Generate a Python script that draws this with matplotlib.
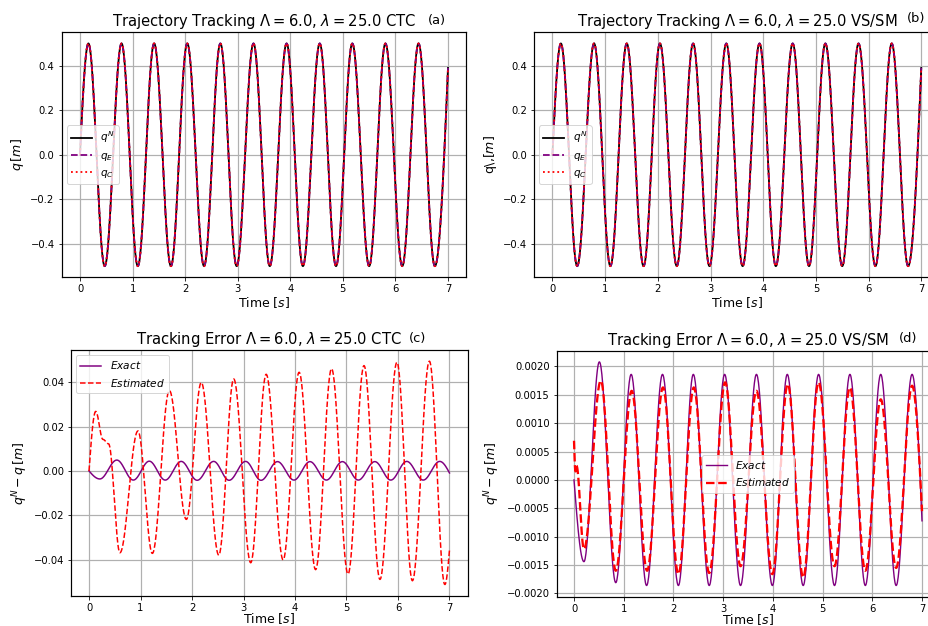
import numpy as np
import matplotlib
matplotlib.use("Agg")
import matplotlib.pyplot as plt
from matplotlib.ticker import MultipleLocator

# ---- values (extrema of each trace, t in s) ----
# reference trajectory q^N (q_E and q_C lie on top of it)
q_t = [0.0, 0.16, 0.47, 0.79, 1.10, 1.41, 1.73, 2.04, 2.36, 2.67, 2.98, 3.30,
       3.61, 3.93, 4.24, 4.56, 4.87, 5.18, 5.50, 5.81, 6.13, 6.44, 6.75, 7.0]
q_v = [0.0, 0.50, -0.50, 0.50, -0.50, 0.50, -0.50, 0.50, -0.50, 0.50, -0.50, 0.50,
       -0.50, 0.50, -0.50, 0.50, -0.50, 0.50, -0.50, 0.50, -0.50, 0.50, -0.50, 0.39]

# (c) CTC tracking error
c_exact_t = [0.0, 0.21, 0.54, 0.86, 1.17, 1.48, 1.79, 2.10, 2.42, 2.72, 3.04, 3.34,
             3.66, 3.98, 4.29, 4.61, 4.92, 5.23, 5.55, 5.86, 6.17, 6.49, 6.81, 7.0]
c_exact_v = [0.0, -0.0036, 0.0049, -0.0041, 0.0044, -0.0041, 0.0043, -0.0042, 0.0043,
             -0.0042, 0.0043, -0.0042, 0.0042, -0.0041, 0.0042, -0.0041, 0.0042,
             -0.0041, 0.0042, -0.0041, 0.0043, -0.0041, 0.0043, -0.0009]
c_est_t = [0.0, 0.13, 0.27, 0.38, 0.60, 0.95, 1.23, 1.56, 1.89, 2.18, 2.52, 2.81,
           3.14, 3.44, 3.77, 4.08, 4.40, 4.71, 5.03, 5.34, 5.65, 5.98, 6.28, 6.61,
           6.91, 7.0]
c_est_v = [0.0, 0.0268, 0.0142, 0.0122, -0.0368, 0.0180, -0.0371, 0.0362, -0.0218,
           0.0398, -0.0379, 0.0414, -0.0413, 0.0435, -0.0400, 0.0444, -0.0444,
           0.0460, -0.0464, 0.0474, -0.0488, 0.0489, -0.0494, 0.0494, -0.0511,
           -0.0356]

# (d) VS/SM tracking error
d_exact_t = [0.0, 0.20, 0.51, 0.84, 1.15, 1.46, 1.78, 2.10, 2.40, 2.72, 3.03, 3.35,
             3.67, 3.99, 4.29, 4.61, 4.92, 5.24, 5.55, 5.86, 6.17, 6.48, 6.80, 7.0]
d_exact_v = [0.0, -0.00144, 0.00208, -0.00181, 0.00186, -0.00186, 0.00186, -0.00186,
             0.00186, -0.00186, 0.00186, -0.00186, 0.00186, -0.00186, 0.00186,
             -0.00186, 0.00186, -0.00186, 0.00186, -0.00186, 0.00186, -0.00186,
             0.00186, -0.00072]
d_est_t = [0.0, 0.03, 0.05, 0.20, 0.54, 0.84, 1.16, 1.47, 1.79, 2.10, 2.41, 2.72,
           3.04, 3.35, 3.67, 3.99, 4.30, 4.61, 4.92, 5.24, 5.55, 5.86, 6.17, 6.48,
           6.80, 7.0]
d_est_v = [0.00069, 0.00015, 0.00025, -0.00122, 0.00175, -0.00160, 0.00157, -0.00160,
           0.00163, -0.00166, 0.00163, -0.00164, 0.00172, -0.00152, 0.00157,
           -0.00166, 0.00169, -0.00172, 0.00172, -0.00152, 0.00163, -0.00160,
           0.00142, -0.00155, 0.00166, -0.00055]


def trace(tk, vk, n=40):
    """Join the read extrema with smooth (cosine) pieces."""
    ts, vs = [], []
    last = len(tk) - 2
    for i in range(len(tk) - 1):
        s = np.linspace(0, 1, n)
        if i == 0:
            w = np.sin(np.pi / 2 * s)
        elif i == last:
            w = 1 - np.cos(np.pi / 2 * s)
        else:
            w = (1 - np.cos(np.pi * s)) / 2
        ts.append(tk[i] + (tk[i + 1] - tk[i]) * s)
        vs.append(vk[i] + (vk[i + 1] - vk[i]) * w)
    return np.concatenate(ts), np.concatenate(vs)


W, H, DPI = 928, 626, 72
fig = plt.figure(figsize=(W / DPI + 1e-4, H / DPI + 1e-4), dpi=DPI)


def box(l, t, r, b):
    return [l / W, 1 - b / H, (r - l) / W, (b - t) / H]


ax_a = fig.add_axes(box(61.6, 32.3, 466.4, 277.3))
ax_b = fig.add_axes(box(534, 32.3, 939.7, 277.3))
ax_c = fig.add_axes(box(71, 350, 467.5, 595.7))
ax_d = fig.add_axes(box(556.6, 350.7, 939.4, 596.7))

TITLE, LABEL, PANEL, LEG = 14.8, 12.5, 13, 10.5

tq, vq = trace(q_t, q_v)
for ax, name, ylab in [(ax_a, "CTC", r"$q\,[m]$"),
                       (ax_b, "VS/SM", r"q\,[$m$]")]:
    ax.plot(tq, vq, color="black", lw=1.8, label=r"$q^N$")
    ax.plot(tq, vq, color="purple", lw=1.8, ls="--", label=r"$q_E$")
    ax.plot(tq, vq, color="red", lw=1.8, ls=":", label=r"$q_C$")
    ax.set_title(r"Trajectory Tracking $\Lambda = 6.0$, $\lambda = 25.0$ " + name,
                 fontsize=TITLE)
    ax.set_ylabel(ylab, fontsize=LABEL)
    ax.set_xlabel(r"Time [$s$]", fontsize=LABEL, labelpad=1)
    ax.legend(loc="center left", fontsize=LEG)

ax_a.text(0.927, 1.05, "(a)", transform=ax_a.transAxes, ha="center", va="center",
          fontsize=PANEL)
ax_b.text(0.9416, 1.055, "(b)", transform=ax_b.transAxes, ha="center", va="center",
          fontsize=PANEL)

t1, v1 = trace(c_exact_t, c_exact_v)
t2, v2 = trace(c_est_t, c_est_v)
ax_c.plot(t1, v1, color="purple", lw=1.5, label=r"$Exact$")
ax_c.plot(t2, v2, color="red", lw=1.5, ls="--", label=r"$Estimated$")
ax_c.set_title(r"Tracking Error $\Lambda = 6.0$, $\lambda = 25.0$ CTC", fontsize=TITLE)
ax_c.text(0.874, 1.045, "(c)", transform=ax_c.transAxes, ha="center", va="center",
          fontsize=PANEL)
ax_c.legend(loc="upper left", fontsize=LEG)

t3, v3 = trace(d_exact_t, d_exact_v)
t4, v4 = trace(d_est_t, d_est_v)
ax_d.plot(t3, v3, color="purple", lw=1.4, label=r"$Exact$")
ax_d.plot(t4, v4, color="red", lw=2.3, ls="--", label=r"$Estimated$")
ax_d.set_title(r"Tracking Error $\Lambda = 6.0$, $\lambda = 25.0$ VS/SM", fontsize=TITLE)
ax_d.text(0.918, 1.05, "(d)", transform=ax_d.transAxes, ha="center", va="center",
          fontsize=PANEL)
ax_d.legend(loc="center", fontsize=LEG)
ax_d.yaxis.set_major_locator(MultipleLocator(0.0005))

for ax in (ax_c, ax_d):
    ax.set_ylabel(r"$q^N - q\,[m]$", fontsize=LABEL)
    ax.set_xlabel(r"Time [$s$]", fontsize=LABEL, labelpad=-1.5)

for ax in (ax_a, ax_b, ax_c, ax_d):
    ax.grid(True, color="#b0b0b0", lw=1.2)
    for sp in ax.spines.values():
        sp.set_linewidth(1.2)

fig.savefig("out.png", dpi=DPI)
